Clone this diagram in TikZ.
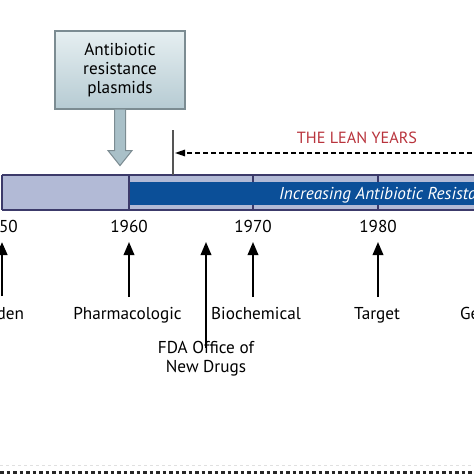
\documentclass[tikz,border=0pt]{standalone}
\usepackage{fontspec}
\setmainfont{PT Sans}
\usetikzlibrary{arrows.meta}
\definecolor{barline}{HTML}{3C3A6A}
\definecolor{barlight}{HTML}{B2BAD6}
\definecolor{bardark}{HTML}{0B4F98}
\definecolor{leanred}{HTML}{B8333C}
\definecolor{boxedge}{HTML}{7C8C92}
\definecolor{boxtop}{HTML}{E6EFF1}
\definecolor{boxbot}{HTML}{B6CBD3}
\definecolor{arrowfill}{HTML}{A9C0C8}
\definecolor{leangray}{HTML}{555555}
\tikzset{
  lbl/.style={font=\fontsize{17.2}{19}\selectfont, inner sep=0pt, anchor=base, align=center},
  yearlbl/.style={lbl},
  uparrow/.style={line width=2pt, -{Triangle[length=13pt,width=10.5pt]}},
  plasmidbox/.style={draw=boxedge, line width=1.2pt, top color=boxtop, bottom color=boxbot,
    minimum width=130pt, minimum height=78pt, align=center, inner sep=0pt,
    font=\fontsize{17.2}{19}\selectfont},
  tickline/.style={barline, line width=1.5pt},
}
\begin{document}
\begin{tikzpicture}[x=1pt,y=-1pt]
\useasboundingbox (0,0) rectangle (474,474);
\clip (0,0) rectangle (474,474);

% plasmid box and block arrow
\node[plasmidbox] (plasmid) at (120,70) {Antibiotic\\resistance\\plasmids};
\draw[boxedge, line width=1pt, fill=arrowfill]
  ([xshift=-5.5pt]plasmid.south) -- ++(0,41) -- ++(-6.5,0) -- ++(12,15) -- ++(12,-15) -- ++(-6.5,0) -- ++(0,-41);

% the bar
\fill[barlight] (2,175) rectangle (480,210);
\fill[bardark] (129,182) rectangle (480,205);
\draw[tickline] (2,175) -- (480,175);
\draw[tickline] (2,210) -- (480,210);
\draw[tickline] (2,175) -- (2,210);
\draw[tickline] (129,175) -- (129,210);
\foreach \xx in {253,378}{
  \draw[tickline] (\xx,175) -- (\xx,182);
  \draw[tickline] (\xx,205) -- (\xx,210);
}
\node[anchor=base west, white, inner sep=0pt, font=\fontsize{17.2}{19}\selectfont\itshape] (resist) at (279,199) {Increasing Antibiotic Resistance};

% lean years
\coordinate (leantop) at (173,130);
\coordinate (leanbot) at (173,175);
\draw[leangray, line width=1.5pt] (leantop) -- (leanbot);
\coordinate (leanstart) at (480,153);
\coordinate (leanend) at (175,153);
\draw[line width=1.3pt, dash pattern=on 5pt off 3pt, -{Triangle[length=10pt,width=6.5pt]}] (leanstart) -- (leanend);
\node[lbl, leanred, font=\fontsize{16.2}{18}\selectfont] (lean) at (357,143.3) {THE LEAN YEARS};

% years
\node[yearlbl] (y1950) at (-1,232) {1950};
\node[yearlbl] (y1960) at (129,232) {1960};
\node[yearlbl] (y1970) at (253,232) {1970};
\node[yearlbl] (y1980) at (378,232) {1980};

% labels
\node[lbl] (golden) at (-2,319) {Golden};
\node[lbl] (pharm) at (127.5,319) {Pharmacologic};
\node[lbl] (bio) at (256,319) {Biochemical};
\node[lbl] (target) at (377,319) {Target};
\node[lbl, anchor=base west] (genomic) at (460,319) {Genomic};
\node[lbl] (fda) at (206,372.7) {FDA Office of\\New Drugs};

% arrows
\coordinate (a1950) at (2,242);
\coordinate (a1960) at (129,242);
\coordinate (a1966) at (206,242);
\coordinate (a1970) at (253,242);
\coordinate (a1980) at (378,242);
\draw[uparrow, line width=2.8pt] (2,296) -- (a1950);
\draw[uparrow] (129,297) -- (a1960);
\draw[uparrow] (206,348) -- (a1966);
\draw[uparrow] (253,297) -- (a1970);
\draw[uparrow] (378,297) -- (a1980);

% bottom dotted line
\coordinate (dl) at (0,465);
\coordinate (dr) at (480,465);
\draw[black!12, line width=1pt, dash pattern=on 3pt off 3pt] (dl) -- (dr);
\coordinate (bl) at (0,472);
\coordinate (br) at (480,472);
\draw[black!85, line width=3pt, dash pattern=on 3.5pt off 3pt] (bl) -- (br);
\end{tikzpicture}
\end{document}
